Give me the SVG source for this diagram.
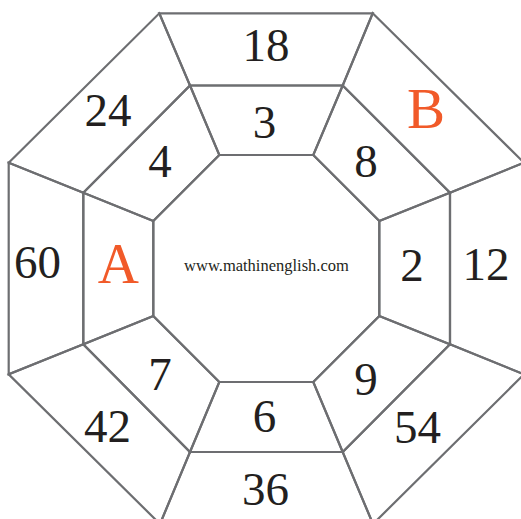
<svg xmlns="http://www.w3.org/2000/svg" width="521" height="519" viewBox="0 0 521 519">
<style>
.c{fill:none;stroke:#6d6e71;stroke-width:2.2;stroke-linejoin:miter}
.n{font-family:"Liberation Serif","Times New Roman",serif;font-size:47px;fill:#231f20;text-anchor:middle}
.l{font-family:"Liberation Serif","Times New Roman",serif;font-size:57px;fill:#f15a29;text-anchor:middle}
.u{font-family:"Liberation Serif","Times New Roman",serif;font-size:16.5px;fill:#231f20;text-anchor:middle}
</style>
<rect width="521" height="519" fill="#ffffff"/>
<g id="center"><polygon class="c" points="219.3,155 313.3,155 379.3,221 379.3,316 313.3,382 219.3,382 153.3,316 153.3,221"/><text class="u" x="266.5" y="270.5">www.mathinenglish.com</text></g>
<g id="cell-18"><polygon class="c" points="159.3,13.3 372.7,13.3 342.7,85.5 190,85.5"/><text class="n" x="266" y="60.5">18</text></g>
<g id="cell-3"><polygon class="c" points="190,85.5 342.7,85.5 313.3,155 219.3,155"/><text class="n" x="264.5" y="138">3</text></g>
<g id="cell-24"><polygon class="c" points="8.7,162.7 159.3,13.3 190,85.5 83.3,192.7"/><text class="n" x="108" y="126">24</text></g>
<g id="cell-4"><polygon class="c" points="83.3,192.7 190,85.5 219.3,155 153.3,221"/><text class="n" x="160" y="177.3">4</text></g>
<g id="cell-B"><polygon class="c" points="372.7,13.3 524,162.7 450,192.7 342.7,85.5"/><text class="l" x="426" y="128.3">B</text></g>
<g id="cell-8"><polygon class="c" points="342.7,85.5 450,192.7 379.3,221 313.3,155"/><text class="n" x="366" y="176.7">8</text></g>
<g id="cell-60"><polygon class="c" points="8.7,162.7 83.3,192.7 83.3,344.3 8.7,374.3"/><text class="n" x="37.5" y="278.3">60</text></g>
<g id="cell-A"><polygon class="c" points="83.3,192.7 153.3,221 153.3,316 83.3,344.3"/><text class="l" x="118.3" y="283.3">A</text></g>
<g id="cell-12"><polygon class="c" points="524,162.7 524,374.3 450,344.3 450,192.7"/><text class="n" x="486" y="279.8">12</text></g>
<g id="cell-2"><polygon class="c" points="450,192.7 450,344.3 379.3,316 379.3,221"/><text class="n" x="412" y="281">2</text></g>
<g id="cell-42"><polygon class="c" points="8.7,374.3 83.3,344.3 190,452 160,524"/><text class="n" x="107.5" y="441.7">42</text></g>
<g id="cell-7"><polygon class="c" points="83.3,344.3 153.3,316 219.3,382 190,452"/><text class="n" x="160" y="390">7</text></g>
<g id="cell-54"><polygon class="c" points="524,374.3 373,524 342.7,452 450,344.3"/><text class="n" x="417.5" y="442.7">54</text></g>
<g id="cell-9"><polygon class="c" points="450,344.3 342.7,452 313.3,382 379.3,316"/><text class="n" x="366" y="395">9</text></g>
<g id="cell-36"><polygon class="c" points="160,524 190,452 342.7,452 373,524"/><text class="n" x="265.5" y="505">36</text></g>
<g id="cell-6"><polygon class="c" points="190,452 219.3,382 313.3,382 342.7,452"/><text class="n" x="264.5" y="431.7">6</text></g>
</svg>
